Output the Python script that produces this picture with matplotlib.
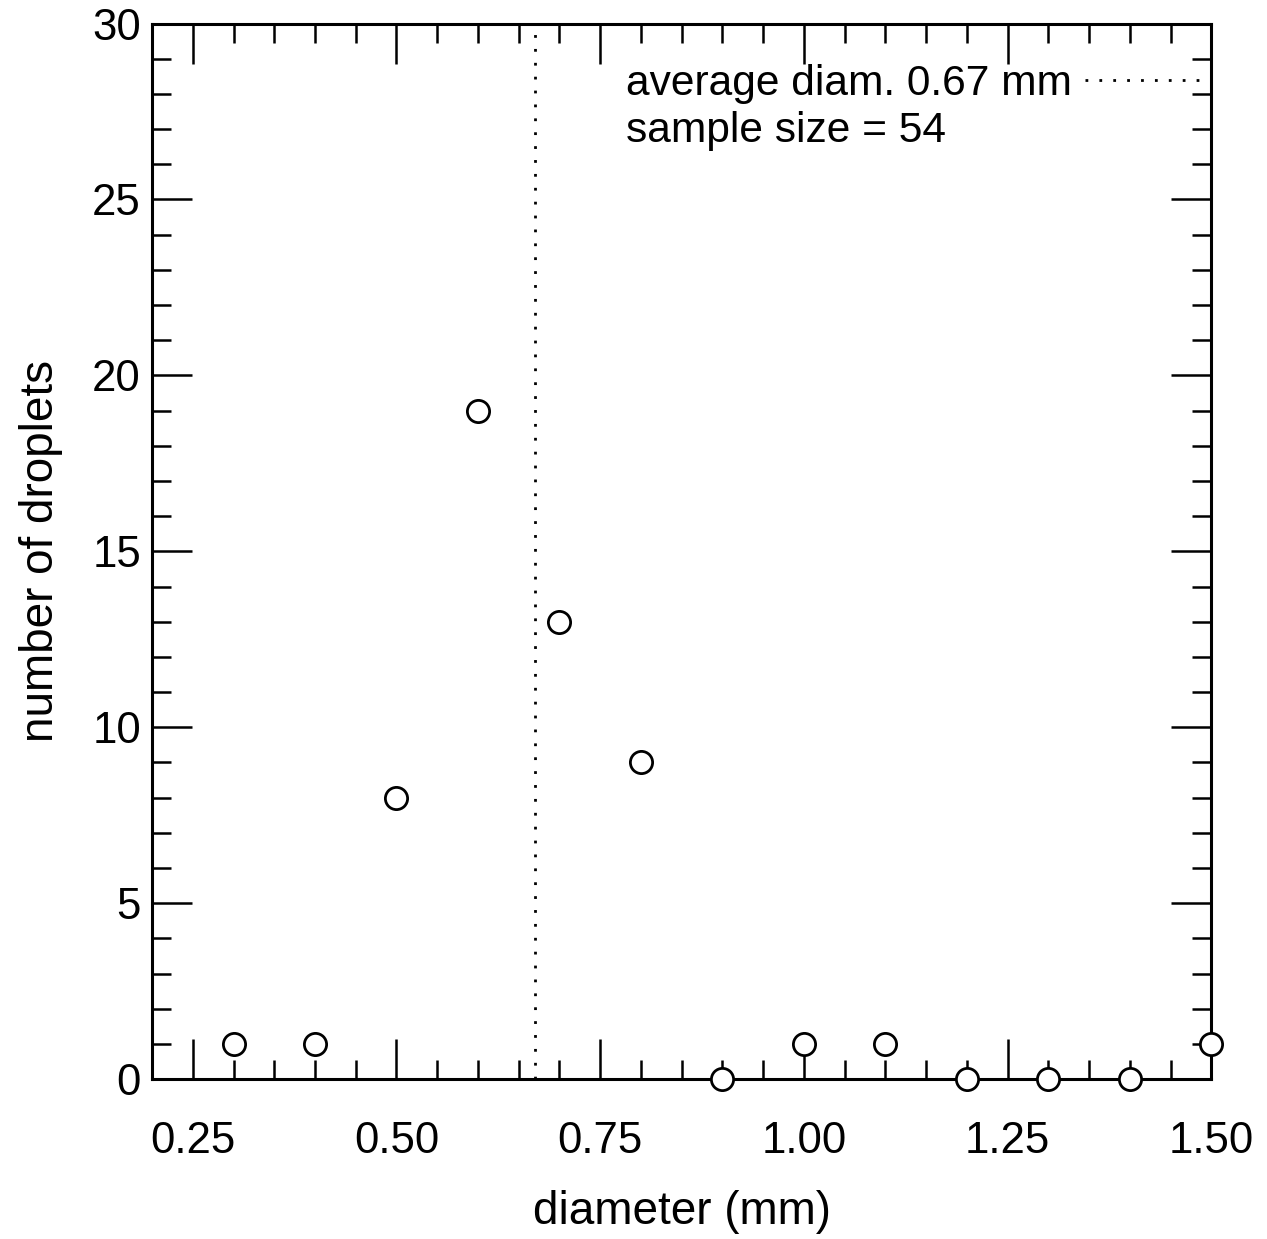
import matplotlib
matplotlib.use("Agg")
import matplotlib.pyplot as plt
from matplotlib.ticker import MultipleLocator, FormatStrFormatter

diameter = [0.3, 0.4, 0.5, 0.6, 0.7, 0.8, 0.9, 1.0, 1.1, 1.2, 1.3, 1.4, 1.5]
count = [1, 1, 8, 19, 13, 9, 0, 1, 1, 0, 0, 0, 1]
avg_diam = 0.67
sample_size = 54

plt.rcParams['font.family'] = ['Liberation Sans', 'DejaVu Sans']

fig = plt.figure(figsize=(12.67, 12.39), dpi=100)
ax = fig.add_axes([0.12, 0.129, 0.836, 0.852])

avg_line = ax.axvline(avg_diam, color='black', lw=2, linestyle=(0, (1, 4)))
ax.plot(diameter, count, 'o', ms=16, mfc='white', mec='black', mew=2,
        clip_on=False, zorder=5)

ax.set_xlim(0.2, 1.5)
ax.set_ylim(0, 30)
ax.xaxis.set_major_locator(MultipleLocator(0.25))
ax.xaxis.set_minor_locator(MultipleLocator(0.05))
ax.xaxis.set_major_formatter(FormatStrFormatter('%.2f'))
ax.yaxis.set_major_locator(MultipleLocator(5))
ax.yaxis.set_minor_locator(MultipleLocator(1))

for s in ax.spines.values():
    s.set_linewidth(2.2)
ax.tick_params(which='both', direction='in', top=True, right=True, width=1.8)
ax.tick_params(which='major', length=29, labelsize=31.5)
ax.tick_params(which='minor', length=14)
ax.tick_params(axis='x', which='major', pad=30)
ax.tick_params(axis='y', which='major', pad=8)

ax.set_xlabel('diameter (mm)', fontsize=33)
ax.set_ylabel('number of droplets', fontsize=33)
ax.xaxis.set_label_coords(0.5, -0.105)
ax.yaxis.set_label_coords(-0.084, 0.5)

leg = ax.legend([avg_line], [f'average diam. {avg_diam:.2f} mm'],
                loc='upper right', bbox_to_anchor=(0.997, 0.962), frameon=False,
                markerfirst=False, fontsize=30.6, handlelength=2.9,
                handletextpad=0.3, borderpad=0, borderaxespad=0)
# second line sits under the legend text, drawn after the legend is placed
ax.annotate(f'sample size = {sample_size}', xy=(0, 0),
            xycoords=leg.get_texts()[0], xytext=(0, -5.5),
            textcoords='offset points', ha='left', va='top', fontsize=30.6,
            zorder=10)

fig.savefig('out.png', dpi=100)
